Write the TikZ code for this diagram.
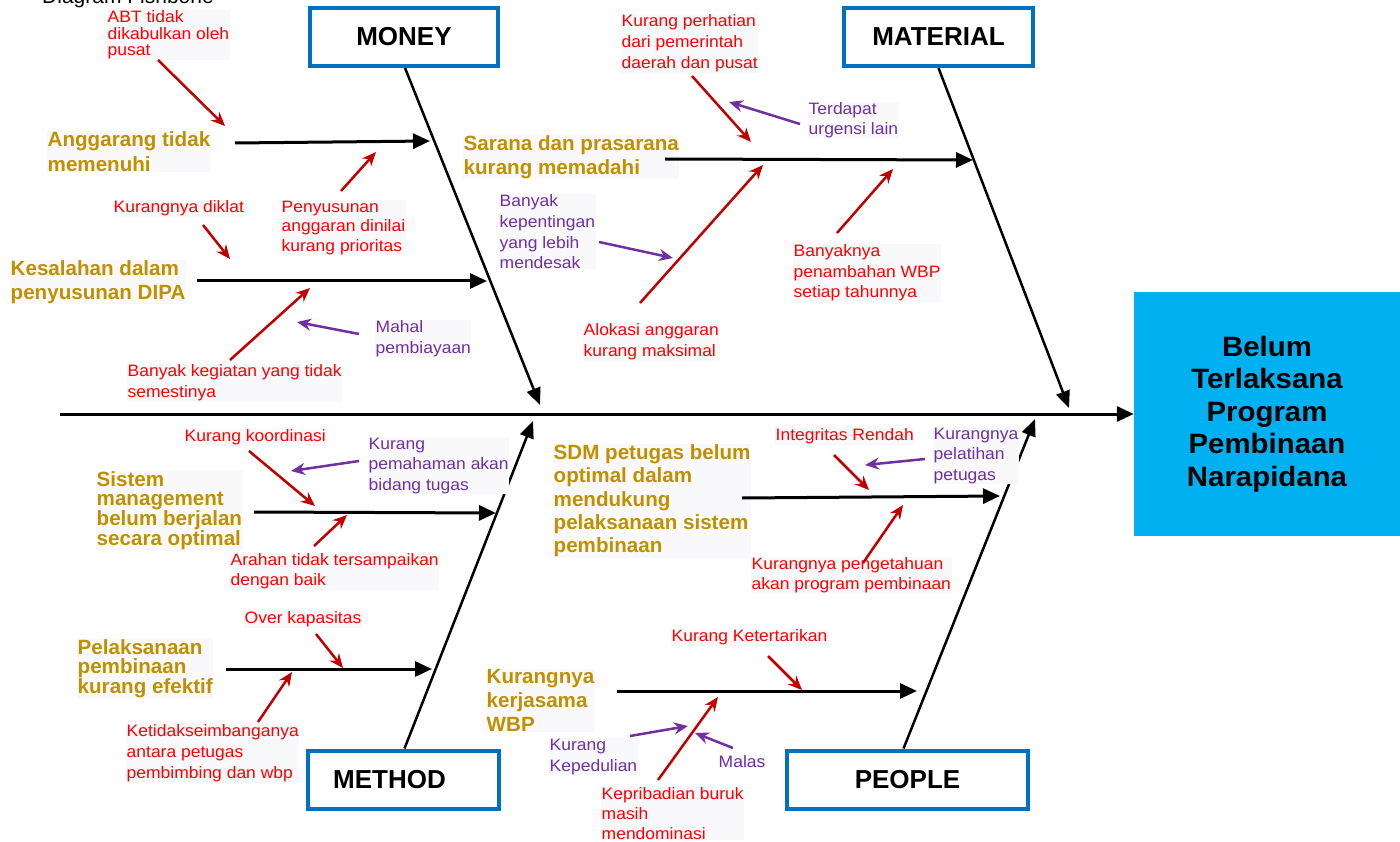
\documentclass[tikz,border=0pt]{standalone}
\usepackage{fontspec}
\setmainfont{Liberation Sans}
\newfontfamily\lblfont{Liberation Sans}[FakeStretch=1.06]
\newfontfamily\efffont{Liberation Sans}[FakeStretch=1.05]
\usetikzlibrary{arrows.meta}
\definecolor{gold}{RGB}{191,144,0}
\definecolor{redtxt}{RGB}{255,0,0}
\definecolor{redarr}{RGB}{192,0,0}
\definecolor{purp}{RGB}{112,48,160}
\definecolor{boxblue}{RGB}{0,112,192}
\definecolor{effblue}{RGB}{0,176,240}
\definecolor{hl}{RGB}{249,249,251}
\begin{document}
\begin{tikzpicture}[x=1pt,y=-1pt,
 redlbl/.style={anchor=north west, inner sep=0.5pt, align=left, text=redtxt, fill=hl, font=\lblfont\fontsize{16.5}{20.5}\selectfont},
 purlbl/.style={redlbl, text=purp},
 bskip/.style={font=\lblfont\fontsize{16.5}{#1}\selectfont},
 goldlbl/.style={anchor=north west, inner sep=0.5pt, align=left, text=gold, fill=hl, font=\fontsize{20.6}{24}\selectfont\bfseries},
 gskip/.style={font=\fontsize{20.6}{#1}\selectfont\bfseries},
 catbox/.style={draw=boxblue, line width=4pt, fill=white, minimum height=58pt, inner sep=0pt, font=\fontsize{26}{30}\selectfont\bfseries},
 bone/.style={line width=2.5pt, -{Triangle[length=17pt,width=14pt]}},
 sub/.style={line width=3pt, -{Triangle[length=17pt,width=15pt]}},
 redarrow/.style={draw=redarr, line width=2.5pt, -{Stealth[length=14pt,width=12pt]}},
 purarrow/.style={redarrow, draw=purp},
]
\useasboundingbox (0,0) rectangle (1400,842);

% title (cut at the top)
\node[anchor=base west, inner sep=0, font=\fontsize{21}{24}\selectfont] (title) at (42,4) {Diagram Fishbone};

% effect
\node[fill=effblue, minimum width=266pt, minimum height=244pt, inner sep=0, align=center,
      font=\efffont\fontsize{28}{32.5}\selectfont\bfseries] (effect) at (1267,414)
      {Belum\\Terlaksana\\Program\\Pembinaan\\Narapidana};

% category boxes
\node[catbox, minimum width=188pt] (money) at (404,37) {MONEY};
\node[catbox, minimum width=189pt] (material) at (938.5,37) {MATERIAL};
\node[catbox, minimum width=191pt] (method) at (403.5,779.5) {METHOD\kern28pt};
\node[catbox, minimum width=241pt] (people) at (907.5,779.5) {PEOPLE};

% spine
\coordinate (spinestart) at (60,414);
\draw[sub] (spinestart) -- (spinestart -| effect.west);

% bones
\coordinate (money-end) at (540,405);
\coordinate (material-end) at (1069,408);
\coordinate (method-end) at (533,421);
\coordinate (people-end) at (1035,419);
\draw[bone] ([xshift=1pt]money.south) -- (money-end);
\draw[bone] (material.south) -- (material-end);
\draw[bone] ([xshift=1pt]method.north) -- (method-end);
\draw[bone] ([xshift=-4pt]people.north) -- (people-end);

% sub-cause labels
\node[goldlbl, gskip=25] (anggarang) at (47,131) {Anggarang tidak\\memenuhi};
\node[goldlbl] (kesalahan) at (10,260) {Kesalahan dalam\\penyusunan DIPA};
\node[goldlbl] (sarana) at (463,135) {Sarana dan prasarana\\kurang memadahi};
\node[goldlbl, gskip=18.7] (sistem) at (96,471) {Sistem\\management\\belum berjalan\\secara optimal};
\node[goldlbl, gskip=19] (pelaksanaan) at (77,639) {Pelaksanaan\\pembinaan\\kurang efektif};
\node[goldlbl, gskip=23.3] (sdm) at (553,444) {SDM petugas belum\\optimal dalam\\mendukung\\pelaksanaan sistem\\pembinaan};
\node[goldlbl] (kerjasama) at (486,669) {Kurangnya\\kerjasama\\WBP};

% sub-cause arrows
\coordinate (s1a) at (235,143); \coordinate (s1b) at (430,141);
\coordinate (s2a) at (197,281); \coordinate (s2b) at (487,281);
\coordinate (s3a) at (665,159); \coordinate (s3b) at (973,160);
\coordinate (s4a) at (254,512); \coordinate (s4b) at (496,513);
\coordinate (s5a) at (226,669); \coordinate (s5b) at (432,669);
\coordinate (s6a) at (742,498); \coordinate (s6b) at (1000,496);
\coordinate (s7a) at (617,691); \coordinate (s7b) at (917,691);
\draw[sub] (s1a) -- (s1b);
\draw[sub] (s2a) -- (s2b);
\draw[sub] (s3a) -- (s3b);
\draw[sub] (s4a) -- (s4b);
\draw[sub] (s5a) -- (s5b);
\draw[sub] (s6a) -- (s6b);
\draw[sub] (s7a) -- (s7b);

% cause labels
\node[redlbl, bskip=16.5] (abt) at (107,10) {ABT tidak\\dikabulkan oleh\\pusat};
\node[redlbl, bskip=19.5] (penyusunan) at (281,200) {Penyusunan\\anggaran dinilai\\kurang prioritas};
\node[redlbl] (diklat) at (113,200) {Kurangnya diklat};
\node[redlbl, bskip=21] (kegiatan) at (127,364) {Banyak kegiatan yang tidak\\semestinya};
\node[purlbl, bskip=21] (mahal) at (375,320) {Mahal\\pembiayaan};
\node[redlbl, bskip=21] (perhatian) at (621,14) {Kurang perhatian\\dari pemerintah\\daerah dan pusat};
\node[purlbl, bskip=20] (urgensi) at (808,102) {Terdapat\\urgensi lain};
\node[purlbl, bskip=20.7] (kepentingan) at (499,194) {Banyak\\kepentingan\\yang lebih\\mendesak};
\node[redlbl] (banyaknya) at (793,244) {Banyaknya\\penambahan WBP\\setiap tahunnya};
\node[redlbl, bskip=21] (alokasi) at (583,323) {Alokasi anggaran\\kurang maksimal};
\node[redlbl] (koordinasi) at (184,429) {Kurang koordinasi};
\node[purlbl] (pemahaman) at (368,437) {Kurang\\pemahaman akan\\bidang tugas};
\node[redlbl, bskip=20] (arahan) at (230,553) {Arahan tidak tersampaikan\\dengan baik};
\node[redlbl] (over) at (244,611) {Over kapasitas};
\node[redlbl, bskip=21] (ketidak) at (126,724) {Ketidakseimbanganya\\antara petugas\\pembimbing dan wbp};
\node[redlbl] (integritas) at (775,428) {Integritas Rendah};
\node[purlbl] (pelatihan) at (933,427) {Kurangnya\\pelatihan\\petugas};
\node[redlbl, bskip=20] (pengetahuan) at (751,557) {Kurangnya pengetahuan\\akan program pembinaan};
\node[redlbl] (ketertarikan) at (671,629) {Kurang Ketertarikan};
\node[redlbl, bskip=20] (kepribadian) at (601,787) {Kepribadian buruk\\masih\\mendominasi};
\node[purlbl, bskip=21] (kepedulian) at (549,738) {Kurang\\Kepedulian};
\node[purlbl] (malas) at (718,755) {Malas};

% cause arrows
\coordinate (a1a) at (158,60);  \coordinate (a1b) at (225,126);
\coordinate (a2a) at (341,191); \coordinate (a2b) at (376,152);
\coordinate (a3a) at (203,225); \coordinate (a3b) at (230,259);
\coordinate (a4a) at (230,360); \coordinate (a4b) at (310,288);
\coordinate (a5a) at (359,334); \coordinate (a5b) at (297,322);
\coordinate (a6a) at (692,76);  \coordinate (a6b) at (751,142);
\coordinate (a7a) at (800,124); \coordinate (a7b) at (729,102);
\coordinate (a8a) at (599,242); \coordinate (a8b) at (673,258);
\coordinate (a9a) at (837,233); \coordinate (a9b) at (893,169);
\coordinate (a10a) at (640,303); \coordinate (a10b) at (763,165);
\coordinate (a11a) at (249,451); \coordinate (a11b) at (315,506);
\coordinate (a12a) at (359,461); \coordinate (a12b) at (291,471);
\coordinate (a13a) at (314,546); \coordinate (a13b) at (347,515);
\coordinate (a14a) at (316,634); \coordinate (a14b) at (343,668);
\coordinate (a15a) at (258,722); \coordinate (a15b) at (292,672);
\coordinate (a16a) at (834,455); \coordinate (a16b) at (869,490);
\coordinate (a17a) at (925,459); \coordinate (a17b) at (865,465);
\coordinate (a18a) at (863,563); \coordinate (a18b) at (903,505);
\coordinate (a19a) at (768,656); \coordinate (a19b) at (802,690);
\coordinate (a20a) at (658,780); \coordinate (a20b) at (718,697);
\coordinate (a21a) at (630,736); \coordinate (a21b) at (688,726);
\coordinate (a22a) at (733,748); \coordinate (a22b) at (695,733);

\draw[redarrow] (a1a) -- (a1b);
\draw[redarrow] (a2a) -- (a2b);
\draw[redarrow] (a3a) -- (a3b);
\draw[redarrow] (a4a) -- (a4b);
\draw[purarrow] (a5a) -- (a5b);
\draw[redarrow] (a6a) -- (a6b);
\draw[purarrow] (a7a) -- (a7b);
\draw[purarrow] (a8a) -- (a8b);
\draw[redarrow] (a9a) -- (a9b);
\draw[redarrow] (a10a) -- (a10b);
\draw[redarrow] (a11a) -- (a11b);
\draw[purarrow] (a12a) -- (a12b);
\draw[redarrow] (a13a) -- (a13b);
\draw[redarrow] (a14a) -- (a14b);
\draw[redarrow] (a15a) -- (a15b);
\draw[redarrow] (a16a) -- (a16b);
\draw[purarrow] (a17a) -- (a17b);
\draw[redarrow] (a18a) -- (a18b);
\draw[redarrow] (a19a) -- (a19b);
\draw[redarrow] (a20a) -- (a20b);
\draw[purarrow] (a21a) -- (a21b);
\draw[purarrow] (a22a) -- (a22b);
\end{tikzpicture}
\end{document}
